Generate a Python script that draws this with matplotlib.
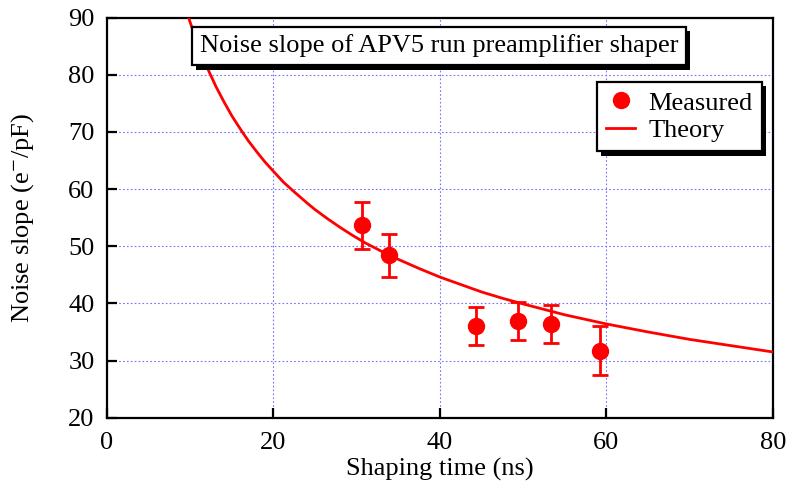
import matplotlib
matplotlib.use("Agg")
import matplotlib.pyplot as plt
import matplotlib.patheffects as pe

plt.rcParams['font.family'] = ['Liberation Serif', 'DejaVu Serif']
plt.rcParams['mathtext.fontset'] = 'stix'

# measured points (shaping time ns, noise slope e-/pF, error)
shaping_time = [30.6, 33.9, 44.3, 49.4, 53.3, 59.2]
noise_slope = [53.7, 48.4, 36.1, 36.9, 36.4, 31.7]
noise_err = [4.1, 3.7, 3.3, 3.35, 3.25, 4.3]

# theory curve
theory_x = [9.8, 10.4, 11, 11.6, 12.3, 13.1, 14, 15, 16.2, 17, 18, 19, 20, 21.2, 22.5, 24,
            25, 26.5, 28, 29.5, 31, 33, 35, 37.5, 40, 42.5, 45, 47.5, 50, 55, 60, 65, 70, 75, 80]
theory_y = [90.0, 87.4, 85.0, 82.8, 80.4, 77.9, 75.4, 72.8, 70.1, 68.4, 66.5, 64.7, 63.1,
            61.2, 59.5, 57.6, 56.4, 54.8, 53.3, 51.9, 50.6, 49.1, 47.7, 46.1, 44.6, 43.3,
            42.0, 40.9, 39.9, 38.0, 36.4, 35.0, 33.7, 32.6, 31.5]

x_ticks = [0, 20, 40, 60, 80]
y_ticks = [20, 30, 40, 50, 60, 70, 80, 90]

fig = plt.figure(figsize=(7.89, 4.88), dpi=100)
ax = fig.add_axes([0.1356, 0.144, 0.8441, 0.820])

ax.plot(theory_x, theory_y, color='red', lw=2, label='Theory', zorder=3)
ax.errorbar(shaping_time, noise_slope, yerr=noise_err, fmt='none', ecolor='red',
            elinewidth=2, capsize=6, capthick=2, zorder=4)
ax.plot(shaping_time, noise_slope, 'o', color='red', ms=11.5, label='Measured', zorder=5)

ax.set_xlim(0, 80)
ax.set_ylim(20, 90)
ax.set_xticks(x_ticks)
ax.set_yticks(y_ticks)
ax.grid(True, color='#7373ff', linestyle=(0, (1.5, 2)), lw=0.8)
ax.tick_params(direction='in', length=7, width=1.6, labelsize=19)
ax.tick_params(axis='x', pad=10)
ax.tick_params(axis='y', pad=9)
for s in ax.spines.values():
    s.set_linewidth(1.6)

ax.set_xlabel('Shaping time (ns)', fontsize=19, labelpad=3)
ax.set_ylabel(r'Noise slope (e$^{-}$/pF)', fontsize=19, labelpad=23)

# title inside a box with a shadow
t = ax.text(0.4985, 0.929, 'Noise slope of APV5 run preamplifier shaper', transform=ax.transAxes,
            ha='center', va='center', fontsize=19,
            bbox=dict(boxstyle='square,pad=0.3', fc='white', ec='black', lw=1.6))
t.get_bbox_patch().set_path_effects([pe.withSimplePatchShadow(offset=(3, -3), shadow_rgbFace='black', alpha=1)])

handles, labels = ax.get_legend_handles_labels()
order = [1, 0]
leg = ax.legend([handles[i] for i in order], [labels[i] for i in order], loc='upper right',
                bbox_to_anchor=(0.9835, 0.839), borderaxespad=0, fontsize=19, fancybox=False,
                framealpha=1, edgecolor='black', handlelength=1.1, handletextpad=0.5,
                borderpad=0.35, labelspacing=0.15)
leg.get_frame().set_linewidth(1.6)
leg.get_frame().set_path_effects([pe.withSimplePatchShadow(offset=(3, -3), shadow_rgbFace='black', alpha=1)])

fig.savefig('out.png', dpi=100)
